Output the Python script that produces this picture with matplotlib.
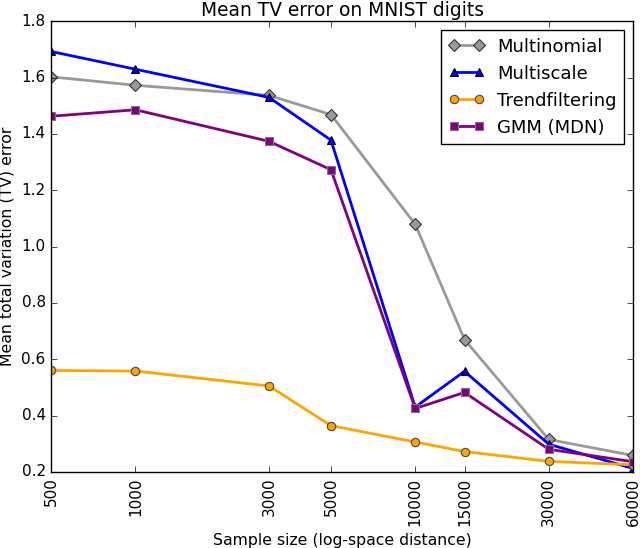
import matplotlib
matplotlib.use("Agg")
import matplotlib.pyplot as plt
from matplotlib.ticker import FixedLocator, NullLocator

# sample sizes
sizes = [500, 1000, 3000, 5000, 10000, 15000, 30000, 60000]

multinomial = [1.603, 1.573, 1.537, 1.469, 1.079, 0.670, 0.315, 0.258]
multiscale = [1.693, 1.630, 1.530, 1.378, 0.430, 0.557, 0.298, 0.212]
trendfiltering = [0.560, 0.558, 0.505, 0.364, 0.306, 0.272, 0.237, 0.225]
gmm = [1.463, 1.486, 1.374, 1.273, 0.425, 0.482, 0.280, 0.236]

plt.style.use("classic")
fig = plt.figure(figsize=(6.4, 5.48), dpi=100)
ax = fig.add_axes([0.080, 0.139, 0.909, 0.822])

ax.plot(sizes, multinomial, color="#999999", lw=2, marker="D", ms=6,
        mfc="#999999", mec="#333333", mew=0.8, label="Multinomial")
ax.plot(sizes, multiscale, color="blue", lw=2, marker="^", ms=6,
        mfc="blue", mec="black", mew=0.8, label="Multiscale")
ax.plot(sizes, trendfiltering, color="orange", lw=2, marker="o", ms=6,
        mfc="orange", mec="#444444", mew=0.8, label="Trendfiltering")
ax.plot(sizes, gmm, color="purple", lw=2, marker="s", ms=6,
        mfc="purple", mec="#777777", mew=0.8, label="GMM (MDN)")

ax.set_xscale("log")
ax.set_xlim(500, 60000)
ax.set_ylim(0.2, 1.8)
ax.xaxis.set_major_locator(FixedLocator(sizes))
ax.xaxis.set_minor_locator(NullLocator())
ax.set_xticklabels([str(s) for s in sizes], rotation=90)
ax.tick_params(labelsize=11)

ax.set_title("Mean TV error on MNIST digits", fontsize=13.4, pad=4)
ax.set_xlabel("Sample size (log-space distance)", fontsize=11.3)
ax.set_ylabel("Mean total variation (TV) error", fontsize=11.3)

ax.legend(loc="upper right", numpoints=2, fontsize=13, handlelength=2.0,
          handletextpad=0.7)

fig.savefig("out.png", dpi=100)
